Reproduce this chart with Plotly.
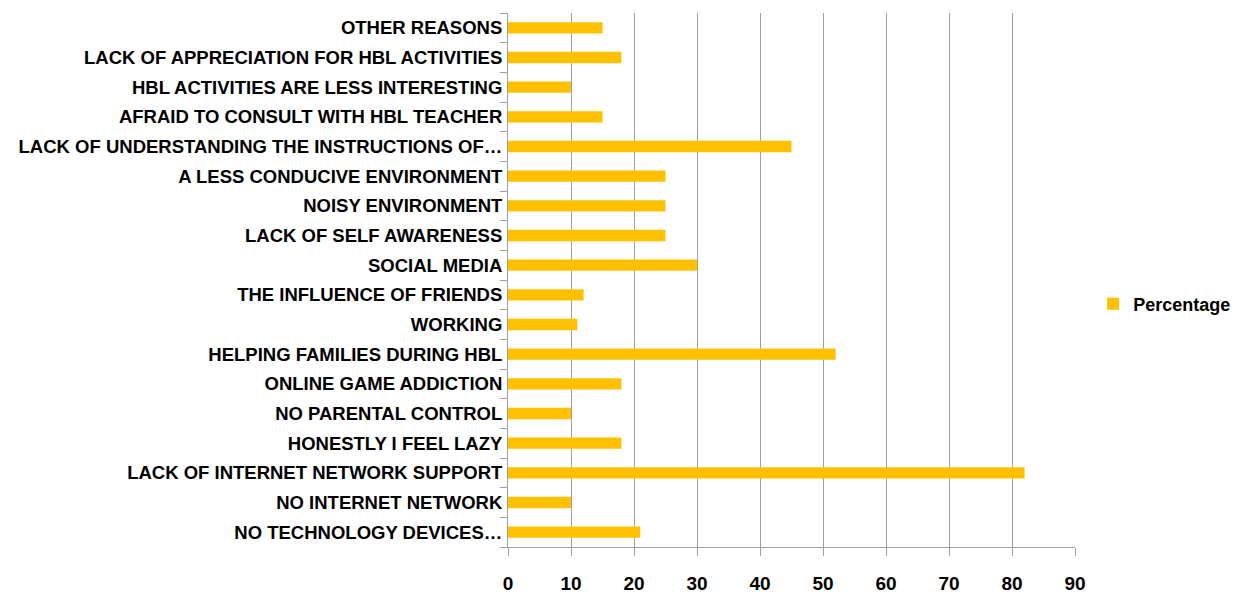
import plotly.graph_objects as go

categories = [
    "NO TECHNOLOGY DEVICES…",
    "NO INTERNET NETWORK",
    "LACK OF INTERNET NETWORK SUPPORT",
    "HONESTLY I FEEL LAZY",
    "NO PARENTAL CONTROL",
    "ONLINE GAME ADDICTION",
    "HELPING FAMILIES DURING HBL",
    "WORKING",
    "THE INFLUENCE OF FRIENDS",
    "SOCIAL MEDIA",
    "LACK OF SELF AWARENESS",
    "NOISY ENVIRONMENT",
    "A LESS CONDUCIVE ENVIRONMENT",
    "LACK OF UNDERSTANDING THE INSTRUCTIONS OF…",
    "AFRAID TO CONSULT WITH HBL TEACHER",
    "HBL ACTIVITIES ARE LESS INTERESTING",
    "LACK OF APPRECIATION FOR HBL ACTIVITIES",
    "OTHER REASONS",
]
percentage = [21, 10, 82, 18, 10, 18, 52, 11, 12, 30, 25, 25, 25, 45, 15, 10, 18, 15]
x_ticks = [0, 10, 20, 30, 40, 50, 60, 70, 80, 90]

FONT = "Liberation Sans, Arial, sans-serif"
GRID = "#a0a0a0"

fig = go.Figure(go.Bar(
    y=categories, x=percentage, orientation="h", name="Percentage",
    marker=dict(color="#FFC000", line=dict(width=0)),
))
fig.update_layout(
    width=1246, height=593,
    margin=dict(l=508, r=171, t=13, b=46, autoexpand=False),
    paper_bgcolor="white", plot_bgcolor="white",
    bargap=0.62,
    font=dict(family=FONT, color="black", size=18),
    showlegend=True,
    legend=dict(x=1.032, y=0.455, xanchor="left", yanchor="middle",
                itemwidth=30,
                font=dict(size=18, family=FONT, weight="bold")),
    xaxis=dict(range=[0, 90], tickvals=x_ticks, showgrid=True, gridcolor=GRID,
               gridwidth=1, showline=True, linecolor=GRID, ticks="outside",
               ticklen=8, tickcolor=GRID, zeroline=False,
               tickfont=dict(size=19, family=FONT, weight="bold"), ticklabelstandoff=11),
    yaxis=dict(showline=True, linecolor=GRID, ticks="outside", ticklen=7,
               tickcolor=GRID, tickson="boundaries", showgrid=False,
               tickfont=dict(size=18.5, family=FONT, weight="bold"), ticklabelstandoff=1),
)
fig.write_html(
    "out.html",
    config={"displayModeBar": False},
    post_script="document.body.style.margin='0px';document.body.style.overflow='hidden';",
)
